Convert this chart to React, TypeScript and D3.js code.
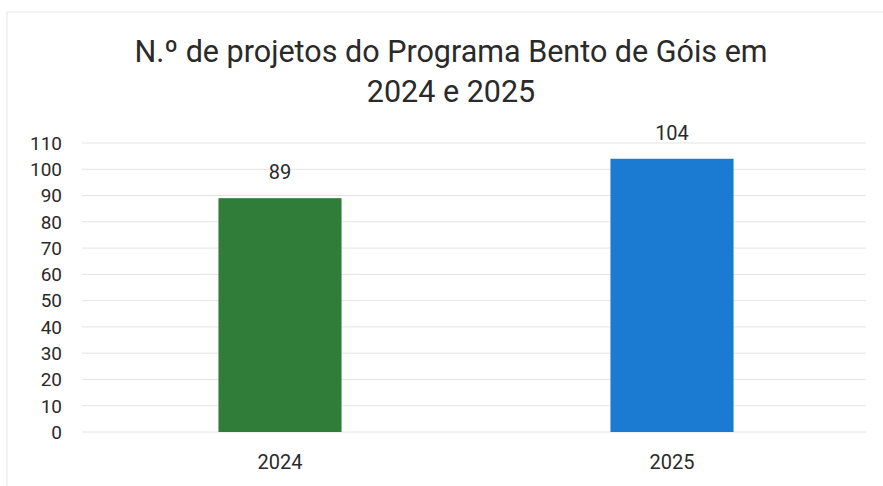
import React from "react";
import * as d3 from "d3";

const categories = ["2024", "2025"];
const values = [89, 104];
const barColors = ["#2f7d38", "#1b7bd2"];
const yTicks = [0, 10, 20, 30, 40, 50, 60, 70, 80, 90, 100, 110];
const titleLines = ["N.º de projetos do Programa Bento de Góis em", "2024 e 2025"];

export default function App() {
  const W = 883, H = 486;
  const left = 84, right = 868, top = 143, bottom = 432;
  const x = d3.scaleBand<string>().domain(categories).range([left, right]).paddingInner(0.686).paddingOuter(0.343);
  const y = d3.scaleLinear().domain([0, 110]).range([bottom, top]);
  const font = "Roboto, 'Open Sans', sans-serif";
  return (
    <svg width={W} height={H} style={{ position: "absolute", left: 0, top: 0, background: "#fff" }} fontFamily={font}>
      <rect x={0} y={0} width={W} height={H} fill="#fff" />
      <line x1={7} y1={12} x2={W} y2={12} stroke="#e6e6e6" strokeWidth={1} />
      <line x1={7} y1={12} x2={7} y2={H} stroke="#e6e6e6" strokeWidth={1} />
      {titleLines.map((t, i) => (
        <text key={i} x={451} y={62 + i * 40} textAnchor="middle" fontSize={30.5} fill="#2a2a2a">{t}</text>
      ))}
      {yTicks.map((t) => (
        <g key={t}>
          <line x1={82} x2={866} y1={y(t)} y2={y(t)} stroke="#e4e4e4" strokeWidth={1} />
          <text x={62} y={y(t)} dy="0.36em" textAnchor="end" fontSize={19} fill="#2a2a2a">{t}</text>
        </g>
      ))}
      {categories.map((c, i) => (
        <g key={c}>
          <rect x={x(c)} y={y(values[i])} width={x.bandwidth()} height={y(0) - y(values[i])} fill={barColors[i]} />
          <text x={(x(c) as number) + x.bandwidth() / 2} y={y(values[i]) - 19} textAnchor="middle" fontSize={20} fill="#2a2a2a">{values[i]}</text>
          <text x={(x(c) as number) + x.bandwidth() / 2} y={469} textAnchor="middle" fontSize={20} fill="#2a2a2a">{c}</text>
        </g>
      ))}
    </svg>
  );
}
